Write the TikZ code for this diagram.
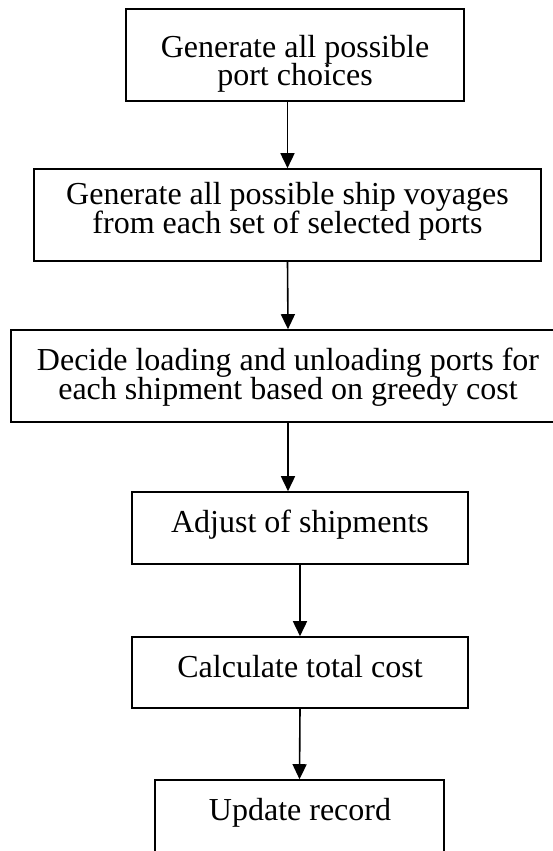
\documentclass[tikz,border=0pt]{standalone}
\usepackage{fontspec}
\setmainfont{Liberation Serif}
\usetikzlibrary{arrows.meta}
\begin{document}
\begin{tikzpicture}[x=1pt,y=-1pt,
  box/.style={draw, line width=1.6pt, rectangle, inner sep=0pt},
  lbl/.style={anchor=base, inner sep=0pt, font=\fontsize{32}{27}\selectfont},
  flow/.style={line width=1.6pt, -{Triangle[length=15pt,width=14pt]}}]
\useasboundingbox (0,0) rectangle (552,851);

% process boxes
\node[box, minimum width=338pt, minimum height=92pt] (b1) at (295,55) {};
\node[box, minimum width=507pt, minimum height=92pt] (b2) at (287.5,215) {};
\node[box, minimum width=554pt, minimum height=92pt] (b3) at (288,376) {};
\node[box, minimum width=336pt, minimum height=72pt] (b4) at (300,528) {};
\node[box, minimum width=336pt, minimum height=71pt] (b5) at (300,672.5) {};
\node[box, minimum width=289pt, minimum height=90pt] (b6) at (299.5,825) {};

% box texts
\node[lbl] (t1a) at (295,58) {Generate all possible};
\node[lbl] (t1b) at (295,85) {port choices};
\node[lbl] (t2a) at (287.5,204) {Generate all possible ship voyages};
\node[lbl] (t2b) at (287.5,233) {from each set of selected ports};
\node[lbl] (t3a) at (288,370) {Decide loading and unloading ports for};
\node[lbl] (t3b) at (288,399) {each shipment based on greedy cost};
\node[lbl] (t4) at (300,532) {Adjust of shipments};
\node[lbl] (t5) at (300,677) {Calculate total cost};
\node[lbl] (t6) at (300,820) {Update record};

% connectors
\draw[flow] (b1.south -| b2.north) -- (b2.north);
\draw[flow] (b2.south) -- (b3.north);
\draw[flow] (b3.south) -- (b4.north -| b3.south);
\draw[flow] (b4.south) -- (b5.north);
\draw[flow] (b5.south) -- (b6.north);
\end{tikzpicture}
\end{document}
